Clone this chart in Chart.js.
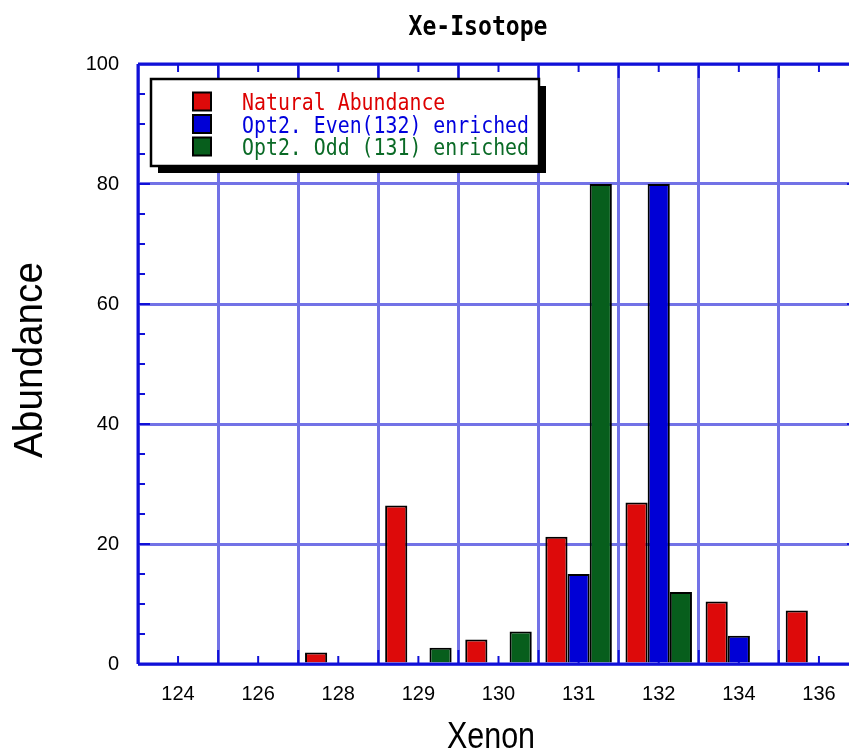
<!DOCTYPE html>
<html>
<head>
<meta charset="utf-8">
<script src="https://cdn.jsdelivr.net/npm/chart.js@4.4.1/dist/chart.umd.min.js"></script>
<style>
  html, body { margin: 0; padding: 0; background: #fff; overflow: hidden; width: 849px; height: 752px; }
  #wrap { position: absolute; left: 0; top: 0; width: 880px; height: 752px; }
</style>
</head>
<body>
<div id="wrap"><canvas id="c" width="880" height="752"></canvas></div>
<script>
const categories = ['124', '126', '128', '129', '130', '131', '132', '134', '136'];
const naturalAbundance = [0, 0, 1.9, 26.4, 4.1, 21.2, 26.9, 10.4, 8.9];
const evenEnriched = [0, 0, 0, 0, 0, 15.0, 80.0, 4.7, 0];
const oddEnriched = [0, 0, 0, 2.7, 5.4, 80.0, 12.0, 0, 0];
const seriesLabels = ['Natural Abundance', 'Opt2. Even(132) enriched', 'Opt2. Odd (131) enriched'];
const chartTitle = 'Xe-Isotope';
const xTitle = 'Xenon';
const yTitle = 'Abundance';

const barColors = ['#dd0a0a', '#0000d6', '#075e1c'];
const textColors = ['#dd0000', '#0000dd', '#0a6a26'];
const gridColor = '#7272e6';
const frameColor = '#1010d8';

function drawFit(ctx, text, x, y, targetW, font, color, align, rotate) {
  ctx.save();
  ctx.font = font;
  ctx.fillStyle = color;
  ctx.textBaseline = 'alphabetic';
  ctx.textAlign = 'left';
  const w = ctx.measureText(text).width;
  const sx = targetW / w;
  ctx.translate(x, y);
  if (rotate) ctx.rotate(-Math.PI / 2);
  ctx.scale(sx, 1);
  let ox = 0;
  if (align === 'center') ox = -w / 2;
  ctx.fillText(text, ox, 0);
  ctx.restore();
}

const framePlugin = {
  id: 'framePlugin',
  beforeDatasetsDraw(chart) {
    const ctx = chart.ctx;
    const a = chart.chartArea;
    const xs = chart.scales.x, ys = chart.scales.y;
    const half = (xs.getPixelForValue(1) - xs.getPixelForValue(0)) / 2;
    ctx.save();
    ctx.strokeStyle = frameColor;
    ctx.lineWidth = 2;
    ctx.beginPath();
    for (let i = 0; i < categories.length; i++) {
      const cx = xs.getPixelForValue(i);
      ctx.moveTo(cx, a.bottom); ctx.lineTo(cx, a.bottom - 8);
      ctx.moveTo(cx, a.top); ctx.lineTo(cx, a.top + 8);
      const bx = cx + half;
      ctx.moveTo(bx, a.bottom); ctx.lineTo(bx, a.bottom - 14);
      ctx.moveTo(bx, a.top); ctx.lineTo(bx, a.top + 14);
    }
    for (let v = 0; v <= 100; v += 5) {
      const py = ys.getPixelForValue(v);
      const len = (v % 20 === 0) ? 12 : 7;
      ctx.moveTo(a.left, py); ctx.lineTo(a.left + len, py);
      ctx.moveTo(a.right, py); ctx.lineTo(a.right - len, py);
    }
    ctx.stroke();
    ctx.restore();
  },
  afterDatasetsDraw(chart) {
    const ctx = chart.ctx;
    const a = chart.chartArea;
    ctx.save();
    ctx.strokeStyle = frameColor;
    ctx.lineWidth = 3;
    ctx.beginPath();
    ctx.moveTo(a.left, a.bottom); ctx.lineTo(a.right, a.bottom);
    ctx.moveTo(a.left, a.top); ctx.lineTo(a.right, a.top);
    ctx.moveTo(a.left, a.top); ctx.lineTo(a.left, a.bottom);
    ctx.moveTo(a.right, a.top); ctx.lineTo(a.right, a.bottom);
    ctx.stroke();

    const lx = 151, ly = 79, lw = 388, lh = 87, sh = 7;
    ctx.fillStyle = '#000';
    ctx.fillRect(lx + sh, ly + sh, lw, lh);
    ctx.fillStyle = '#fff';
    ctx.fillRect(lx, ly, lw, lh);
    ctx.lineWidth = 2.5;
    ctx.strokeStyle = '#000';
    ctx.strokeRect(lx, ly, lw, lh);
    for (let i = 0; i < seriesLabels.length; i++) {
      const cy = 101.5 + i * 22.5;
      ctx.fillStyle = barColors[i];
      ctx.fillRect(193, cy - 9, 18, 18);
      ctx.lineWidth = 2;
      ctx.strokeStyle = '#000';
      ctx.strokeRect(193, cy - 9, 18, 18);
      drawFit(ctx, seriesLabels[i], 242, cy + 8.5, seriesLabels[i].length * 11.96,
        '23px "DejaVu Sans Mono"', textColors[i], 'left', false);
    }
    ctx.restore();
  },
  afterDraw(chart) {
    const ctx = chart.ctx;
    drawFit(ctx, chartTitle, 478, 35, 139, 'bold 27px "DejaVu Sans Mono"', '#000', 'center', false);
    drawFit(ctx, xTitle, 491, 748, 88, '36px "Liberation Sans"', '#000', 'center', false);
    drawFit(ctx, yTitle, 42, 360, 196, '41px "Liberation Sans"', '#000', 'center', true);
  }
};

const ds = [naturalAbundance, evenEnriched, oddEnriched].map((d, i) => ({
  label: seriesLabels[i],
  data: d,
  backgroundColor: barColors[i],
  borderColor: '#000',
  borderWidth: 2,
  borderSkipped: 'start',
  categoryPercentage: 0.83,
  barPercentage: 1.0
}));

new Chart(document.getElementById('c'), {
  type: 'bar',
  data: { labels: categories, datasets: ds },
  options: {
    responsive: false,
    animation: false,
    devicePixelRatio: 1,
    layout: { padding: { top: 64, right: 21, left: 0, bottom: 0 } },
    plugins: { legend: { display: false }, title: { display: false }, tooltip: { enabled: false } },
    scales: {
      x: {
        grid: { offset: true, color: gridColor, lineWidth: 3, drawTicks: false },
        border: { display: false },
        ticks: { color: '#000', font: { family: '"Liberation Sans"', size: 20 }, padding: 18, maxRotation: 0 },
        afterFit(s) { s.height = 88; }
      },
      y: {
        min: 0, max: 100,
        grid: { color: gridColor, lineWidth: 3, drawTicks: false },
        border: { display: false },
        ticks: { stepSize: 20, color: '#000', font: { family: '"Liberation Sans"', size: 20 }, padding: 19 },
        afterFit(s) { s.width = 138; }
      }
    }
  },
  plugins: [framePlugin]
});
</script>
</body>
</html>
